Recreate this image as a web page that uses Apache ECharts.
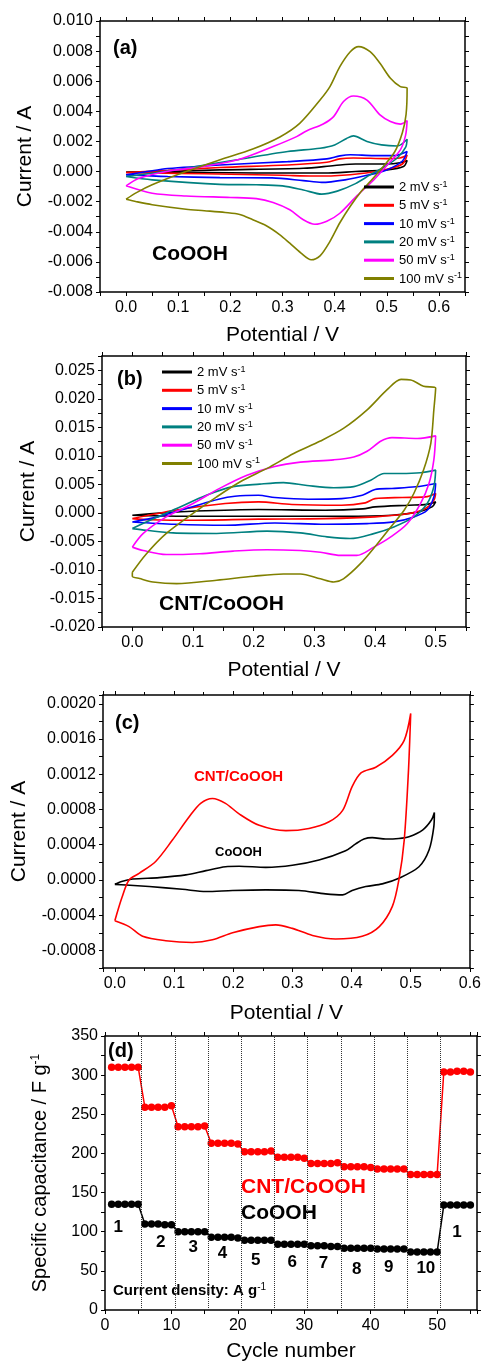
<!DOCTYPE html>
<html>
<head>
<meta charset="utf-8">
<title>CV curves and rate capability</title>
<script src="https://cdn.jsdelivr.net/npm/echarts@6/dist/echarts.min.js"></script>
<style>
  html, body { margin: 0; padding: 0; background: #fff; }
  #chart { width: 484px; height: 1363px; }
</style>
</head>
<body>
<div id="chart"></div>
<script>
// scan rates (legend order)
var rateNames = ['2 mV s-1', '5 mV s-1', '10 mV s-1', '20 mV s-1', '50 mV s-1', '100 mV s-1'];
var rateColors = ['#000000', '#ff0000', '#0000ff', '#008080', '#ff00ff', '#808000'];

// (a) CoOOH loops: [potential V, current mA]
var cvA2 = [[0,-0.04],[0.06,0.0],[0.18,0.11],[0.34,0.22],[0.40,0.40],[0.44,0.5],[0.50,0.5],[0.525,0.58],[0.539,0.74],
  [0.532,0.33],[0.50,0.11],[0.44,0.0],[0.38,-0.1],[0.30,-0.1],[0.20,-0.08],[0.10,-0.06],[0,-0.04]];
var cvA5 = [[0,-0.07],[0.08,0.08],[0.18,0.27],[0.31,0.44],[0.385,0.62],[0.41,0.84],[0.436,0.9],[0.50,0.86],[0.525,0.9],[0.539,1.1],
  [0.53,0.5],[0.50,0.15],[0.46,-0.1],[0.40,-0.28],[0.36,-0.3],[0.30,-0.25],[0.20,-0.18],[0.10,-0.12],[0,-0.07]];
var cvA10 = [[0,-0.22],[0.04,0.0],[0.08,0.2],[0.18,0.44],[0.31,0.66],[0.385,0.84],[0.41,1.04],[0.43,1.12],[0.475,1.06],[0.515,1.06],[0.539,1.33],
  [0.53,0.7],[0.50,0.11],[0.462,-0.25],[0.42,-0.55],[0.375,-0.72],[0.34,-0.6],[0.28,-0.42],[0.18,-0.4],[0.08,-0.33],[0,-0.22]];
var cvA20 = [[0,-0.33],[0.05,-0.11],[0.115,0.22],[0.21,0.77],[0.31,1.33],[0.372,1.55],[0.40,1.77],[0.423,2.2],[0.436,2.37],[0.462,2.0],[0.49,1.77],[0.52,1.7],[0.539,2.15],
  [0.536,1.6],[0.52,0.9],[0.49,0.2],[0.468,-0.22],[0.44,-0.8],[0.405,-1.3],[0.375,-1.5],[0.34,-1.22],[0.30,-0.95],[0.25,-0.88],[0.18,-0.85],[0.05,-0.55],[0,-0.33]];
var cvA50 = [[0,-0.95],[0.025,-0.44],[0.083,0.04],[0.147,0.33],[0.218,0.82],[0.282,1.66],[0.327,2.32],[0.346,2.7],[0.378,3.16],[0.398,3.65],[0.417,4.65],[0.436,5.02],[0.462,4.75],[0.487,3.76],[0.507,3.32],[0.526,3.15],[0.539,3.38],
  [0.536,2.4],[0.526,1.44],[0.50,0.4],[0.475,-0.55],[0.443,-1.6],[0.41,-2.77],[0.385,-3.3],[0.362,-3.5],[0.34,-3.2],[0.314,-2.54],[0.282,-2.05],[0.25,-1.8],[0.20,-1.72],[0.115,-1.62],[0.05,-1.44],[0,-0.95]];
var cvA100 = [[0,-1.84],[0.02,-1.4],[0.05,-0.88],[0.115,0],[0.179,0.77],[0.243,1.5],[0.295,2.3],[0.333,3.2],[0.372,4.75],[0.391,5.64],[0.41,6.97],[0.43,7.96],[0.446,8.3],[0.468,7.96],[0.487,7.19],[0.507,6.2],[0.526,5.64],[0.539,5.53],
  [0.537,3.8],[0.53,2.6],[0.515,1.3],[0.49,0.2],[0.47,-0.6],[0.449,-1.4],[0.43,-2.3],[0.41,-3.4],[0.39,-4.7],[0.372,-5.6],[0.355,-5.86],[0.335,-5.4],[0.314,-4.76],[0.295,-4.2],[0.269,-3.6],[0.243,-3.2],[0.218,-2.85],[0.19,-2.72],[0.15,-2.6],[0.115,-2.5],[0.05,-2.2],[0.02,-2.0],[0,-1.84]];

// (b) CNT/CoOOH loops: [potential V, current mA]
var cvB2 = [[0,-0.4],[0.05,0.0],[0.098,0.3],[0.208,0.6],[0.318,0.47],[0.38,0.7],[0.40,1.05],[0.456,1.35],[0.485,1.5],[0.5,1.93],
  [0.494,1.05],[0.472,0.18],[0.428,-0.4],[0.35,-0.6],[0.263,-0.6],[0.098,-0.6],[0.03,-0.5],[0,-0.4]];
var cvB5 = [[0,-1.0],[0.07,0.47],[0.153,1.64],[0.208,1.93],[0.263,1.47],[0.345,1.35],[0.384,1.76],[0.40,2.5],[0.445,2.7],[0.483,2.8],[0.5,3.4],
  [0.497,2.2],[0.483,0.76],[0.456,-0.12],[0.40,-0.7],[0.318,-1.0],[0.208,-1.1],[0.098,-1.3],[0.03,-1.2],[0,-1.0]];
var cvB10 = [[0,-1.6],[0.042,-0.7],[0.098,1.05],[0.142,2.4],[0.169,2.93],[0.208,3.1],[0.235,2.7],[0.29,2.4],[0.345,2.5],[0.379,3.1],[0.40,4.1],[0.428,4.28],[0.467,4.57],[0.5,5.16],
  [0.497,2.8],[0.486,0.47],[0.464,-0.7],[0.431,-1.58],[0.387,-1.88],[0.318,-2.0],[0.235,-1.76],[0.153,-2.17],[0.07,-2.0],[0,-1.6]];
var cvB20 = [[0,-2.75],[0.029,-1.3],[0.073,0.76],[0.122,3.1],[0.166,4.6],[0.21,5.04],[0.249,5.3],[0.288,4.8],[0.332,4.4],[0.365,4.6],[0.393,5.74],[0.415,6.9],[0.442,6.9],[0.475,7.03],[0.5,7.5],
  [0.497,4.57],[0.486,1.64],[0.464,-0.7],[0.431,-2.46],[0.398,-3.63],[0.359,-4.5],[0.321,-4.2],[0.277,-3.5],[0.222,-3.2],[0.139,-3.6],[0.067,-3.5],[0.023,-3.05],[0,-2.75]];
var cvB50 = [[0,-6.0],[0.018,-3.6],[0.056,-0.7],[0.1,1.64],[0.144,4.3],[0.189,6.6],[0.233,8.1],[0.277,8.9],[0.332,9.3],[0.365,9.8],[0.387,10.8],[0.41,12.6],[0.428,13.2],[0.47,13.05],[0.5,13.5],
  [0.497,9.3],[0.489,5.16],[0.475,1.64],[0.453,-1.9],[0.426,-4.2],[0.398,-6.0],[0.37,-7.45],[0.343,-7.45],[0.31,-6.9],[0.277,-6.6],[0.222,-6.45],[0.166,-6.7],[0.111,-7.15],[0.056,-7.3],[0.018,-6.6],[0,-6.0]];
var cvB100 = [[0,-10.4],[0.023,-7.2],[0.056,-3.6],[0.1,-0.1],[0.139,2.8],[0.178,5.45],[0.222,7.8],[0.266,10.4],[0.31,12.6],[0.348,14.8],[0.387,18.05],[0.42,21.6],[0.443,23.4],[0.459,23.3],[0.48,22.2],[0.5,21.9],
  [0.497,18.05],[0.492,12.2],[0.48,7.5],[0.464,3.4],[0.448,0.47],[0.426,-2.46],[0.404,-5.4],[0.376,-8.9],[0.348,-11.55],[0.332,-12.1],[0.31,-11.55],[0.277,-10.7],[0.249,-10.7],[0.2,-11.1],[0.139,-11.8],[0.073,-12.4],[0.034,-12.1],[0.012,-11.5],[0,-11.1],[0,-10.4]];

// (c) comparison at one scan rate: [potential V, current mA]
var cvCnt = [[0,-0.464],[0.012,-0.2],[0.024,0],[0.041,0.075],[0.069,0.21],[0.097,0.45],[0.126,0.72],[0.145,0.87],[0.165,0.925],[0.187,0.87],[0.21,0.75],[0.244,0.62],[0.289,0.56],[0.328,0.585],[0.362,0.66],[0.385,0.79],[0.401,1.06],[0.416,1.215],[0.441,1.28],[0.469,1.415],[0.489,1.585],[0.5,1.89],
  [0.496,1.21],[0.489,0.45],[0.48,0],[0.469,-0.3],[0.447,-0.53],[0.418,-0.64],[0.373,-0.67],[0.334,-0.63],[0.3,-0.55],[0.272,-0.51],[0.244,-0.53],[0.199,-0.6],[0.165,-0.68],[0.131,-0.71],[0.086,-0.69],[0.047,-0.64],[0.024,-0.53],[0,-0.464]];
var cvCooh = [[0,-0.05],[0.01,-0.02],[0.03,0.01],[0.075,0.026],[0.12,0.057],[0.154,0.106],[0.187,0.15],[0.21,0.155],[0.255,0.143],[0.3,0.166],[0.345,0.226],[0.39,0.332],[0.407,0.41],[0.421,0.464],[0.435,0.48],[0.458,0.464],[0.48,0.47],[0.497,0.49],[0.52,0.566],[0.535,0.68],[0.54,0.766],
  [0.539,0.6],[0.531,0.34],[0.514,0.15],[0.48,0.019],[0.452,-0.045],[0.424,-0.075],[0.401,-0.12],[0.385,-0.17],[0.356,-0.158],[0.311,-0.12],[0.255,-0.113],[0.199,-0.12],[0.154,-0.132],[0.114,-0.106],[0.058,-0.075],[0.019,-0.057],[0,-0.05]];

// (d) specific capacitance per cycle (cycle 1..55), F/g
var capCnt = [310,310,310,310,310, 259,259,259,259,261, 234,234,234,234,235, 213,213,213,213,212, 202,202,202,202,203,
  195,195,195,195,194, 187,187,187,187,188, 183,183,183,183,182, 180,180,180,180,180, 173,173,173,173,173, 304,304,305,305,304];
var capCooh = [135,135,135,135,135, 110,110,110,109,109, 100,100,100,100,100, 93,93,93,93,92, 89,89,89,89,89,
  84,84,84,84,84, 82,82,82,81,81, 79,79,79,79,79, 78,78,78,78,78, 74,74,74,74,74, 134,134,134,134,134];
var dividers = [5.5, 10.5, 15.5, 20.5, 25.5, 30.5, 35.5, 40.5, 45.5, 50.5];
var stepX = [2, 8.4, 13.3, 17.7, 22.7, 28.2, 32.9, 37.9, 42.7, 48.3, 53];
var stepY = [105, 86, 80, 72, 63, 61, 59, 52.5, 54.6, 53.8, 99];
var stepText = ['1', '2', '3', '4', '5', '6', '7', '8', '9', '10', '1'];

var FONT = 'Liberation Sans';

function toAmp(pts) {
  return pts.map(function (p) { return [p[0], p[1] / 1000]; });
}

function fmt(step, digits) {
  return function (v) {
    var k = v / step;
    if (Math.abs(k - Math.round(k)) > 1e-6) return '';
    if (Math.abs(v) < 1e-12) v = 0;
    return v.toFixed(digits);
  };
}

var supRich = {
  t: { fontFamily: FONT, fontSize: 13, color: '#000', lineHeight: 14, verticalAlign: 'bottom' },
  s: { fontFamily: FONT, fontSize: 9, color: '#000', lineHeight: 14, verticalAlign: 'top' }
};

function axes(dim, gi, o) {
  var isX = dim === 'x';
  var main = {
    type: 'value', gridIndex: gi, position: isX ? 'bottom' : 'left',
    min: o.min, max: o.max, interval: o.interval,
    minInterval: o.fixed, maxInterval: o.fixed,
    name: o.name, nameLocation: 'middle', nameGap: o.nameGap,
    nameTextStyle: { fontFamily: FONT, fontSize: o.nameSize || 21, color: '#000', rich: o.nameRich },
    axisLine: { onZero: false, lineStyle: { color: '#000', width: 1.5 } },
    axisTick: { inside: false, length: 4, lineStyle: { color: '#000', width: 1 } },
    minorTick: { show: !!o.minor, splitNumber: 2, length: 3, lineStyle: { color: '#000', width: 1 } },
    axisLabel: { formatter: o.formatter, margin: isX ? 8 : 7, fontFamily: FONT, fontSize: 16, color: '#000' },
    splitLine: { show: false }
  };
  var mirror = {
    type: 'value', gridIndex: gi, position: isX ? 'top' : 'right',
    min: o.min, max: o.max, interval: o.interval,
    minInterval: o.fixed, maxInterval: o.fixed,
    axisLine: { onZero: false, lineStyle: { color: '#000', width: 1.5 } },
    axisTick: { inside: false, length: 4, lineStyle: { color: '#000', width: 1 } },
    minorTick: { show: !!o.minor, splitNumber: 2, length: 3, lineStyle: { color: '#000', width: 1 } },
    axisLabel: { show: false },
    splitLine: { show: false }
  };
  return [main, mirror];
}

var xAxis = [].concat(
  axes('x', 0, { min: -0.05, max: 0.65, interval: 0.05, formatter: fmt(0.1, 1), name: 'Potential / V', nameGap: 33 }),
  axes('x', 1, { min: -0.05, max: 0.55, interval: 0.05, formatter: fmt(0.1, 1), name: 'Potential / V', nameGap: 33 }),
  axes('x', 2, { min: -0.02, max: 0.6, fixed: 0.1, minor: true, formatter: fmt(0.1, 1), name: 'Potential / V', nameGap: 35 }),
  axes('x', 3, { min: 0, max: 56, interval: 5, formatter: fmt(10, 0), name: 'Cycle number', nameGap: 31 })
);
var yAxis = [].concat(
  axes('y', 0, { min: -0.008, max: 0.010, interval: 0.001, formatter: fmt(0.002, 3), name: 'Current / A', nameGap: 64 }),
  axes('y', 1, { min: -0.02, max: 0.0275, interval: 0.0025, formatter: fmt(0.005, 3), name: 'Current / A', nameGap: 57 }),
  axes('y', 2, { min: -0.001, max: 0.0021, interval: 0.0002, formatter: fmt(0.0004, 4), name: 'Current / A', nameGap: 73 }),
  axes('y', 3, { min: 0, max: 350, interval: 25, formatter: fmt(50, 0), name: 'Specific capacitance / F g{s|-1}', nameGap: 55, nameSize: 20,
    nameRich: { s: { fontFamily: FONT, fontSize: 12, color: '#000', verticalAlign: 'top' } } })
);

var series = [];
[cvA2, cvA5, cvA10, cvA20, cvA50, cvA100].forEach(function (pts, i) {
  series.push({ name: rateNames[i], type: 'line', xAxisIndex: 0, yAxisIndex: 0, data: toAmp(pts),
    smooth: 0.3, symbol: 'none', color: rateColors[i], lineStyle: { width: 1.6 } });
});
[cvB2, cvB5, cvB10, cvB20, cvB50, cvB100].forEach(function (pts, i) {
  series.push({ name: rateNames[i], type: 'line', xAxisIndex: 2, yAxisIndex: 2, data: toAmp(pts),
    smooth: 0.3, symbol: 'none', color: rateColors[i], lineStyle: { width: 1.6 } });
});
series.push({ name: 'CoOOH (c)', type: 'line', xAxisIndex: 4, yAxisIndex: 4, data: toAmp(cvCooh),
  smooth: 0.3, symbol: 'none', color: '#000', lineStyle: { width: 1.6 } });
series.push({ name: 'CNT/CoOOH (c)', type: 'line', xAxisIndex: 4, yAxisIndex: 4, data: toAmp(cvCnt),
  smooth: 0.3, symbol: 'none', color: '#ff0000', lineStyle: { width: 1.6 } });

series.push({ name: 'CNT/CoOOH', type: 'line', xAxisIndex: 6, yAxisIndex: 6,
  data: capCnt.map(function (v, i) { return [i + 1, v]; }),
  color: '#ff0000', symbol: 'circle', symbolSize: 7.5, lineStyle: { width: 1.5 },
  markLine: {
    silent: true, symbol: 'none', label: { show: false },
    lineStyle: { type: 'dotted', color: '#333', width: 1 },
    data: dividers.map(function (v) { return { xAxis: v }; })
  }
});
series.push({ name: 'CoOOH', type: 'line', xAxisIndex: 6, yAxisIndex: 6,
  data: capCooh.map(function (v, i) { return [i + 1, v]; }),
  color: '#000', symbol: 'circle', symbolSize: 7.5, lineStyle: { width: 1.5 } });
series.push({ type: 'scatter', xAxisIndex: 6, yAxisIndex: 6, silent: true,
  data: stepX.map(function (x, i) { return [x, stepY[i]]; }),
  symbolSize: 0, itemStyle: { color: '#000' },
  label: { show: true, position: 'inside', fontFamily: FONT, fontSize: 17, fontWeight: 'bold',
    color: '#000', textBorderWidth: 0, opacity: 1,
    formatter: function (p) { return stepText[p.dataIndex]; } },
  emphasis: { disabled: true }
});

function legendAt(left, top) {
  return {
    orient: 'vertical', left: left, top: top, padding: 0, icon: 'rect', itemWidth: 30, itemHeight: 3, itemGap: 4.3,
    selectedMode: false, data: rateNames,
    formatter: function (n) { return '{t|' + n.slice(0, -2) + '}{s|-1}'; },
    textStyle: { rich: supRich }
  };
}

function note(text, x, y, size, color) {
  return { type: 'text', x: x, y: y, silent: true,
    style: { text: text, fill: color || '#000', font: 'bold ' + size + 'px "' + FONT + '"', align: 'left', verticalAlign: 'middle' } };
}

var graphic = [
  note('(a)', 113, 48, 20),
  note('CoOOH', 152, 254, 21),
  note('(b)', 117, 379, 20),
  note('CNT/CoOOH', 159, 604, 21),
  note('(c)', 115, 723, 20),
  note('CNT/CoOOH', 194, 777, 15, '#ff0000'),
  note('CoOOH', 215, 852, 13),
  note('(d)', 108, 1051, 20),
  note('CNT/CoOOH', 241, 1187, 21, '#ff0000'),
  note('CoOOH', 241, 1213, 21),
  { type: 'text', x: 113, y: 1290, silent: true,
    style: { text: '{t|Current density: A g}{s|-1}', align: 'left', verticalAlign: 'middle',
      rich: {
        t: { fontFamily: FONT, fontSize: 15, fontWeight: 'bold', fill: '#000', lineHeight: 16, verticalAlign: 'bottom' },
        s: { fontFamily: FONT, fontSize: 10, fill: '#000', lineHeight: 16, verticalAlign: 'top' }
      } } }
];

var chart = echarts.init(document.getElementById('chart'), null, { renderer: 'canvas' });
chart.setOption({
  animation: false,
  backgroundColor: '#fff',
  textStyle: { fontFamily: FONT },
  grid: [
    { left: 100, top: 21, width: 365, height: 271 },
    { left: 102, top: 356, width: 364, height: 271 },
    { left: 103, top: 695, width: 369, height: 273 },
    { left: 105, top: 1036, width: 372, height: 277 }
  ],
  legend: [legendAt(364, 180), legendAt(162, 365)],
  xAxis: xAxis,
  yAxis: yAxis,
  series: series,
  graphic: graphic
});
</script>
</body>
</html>
